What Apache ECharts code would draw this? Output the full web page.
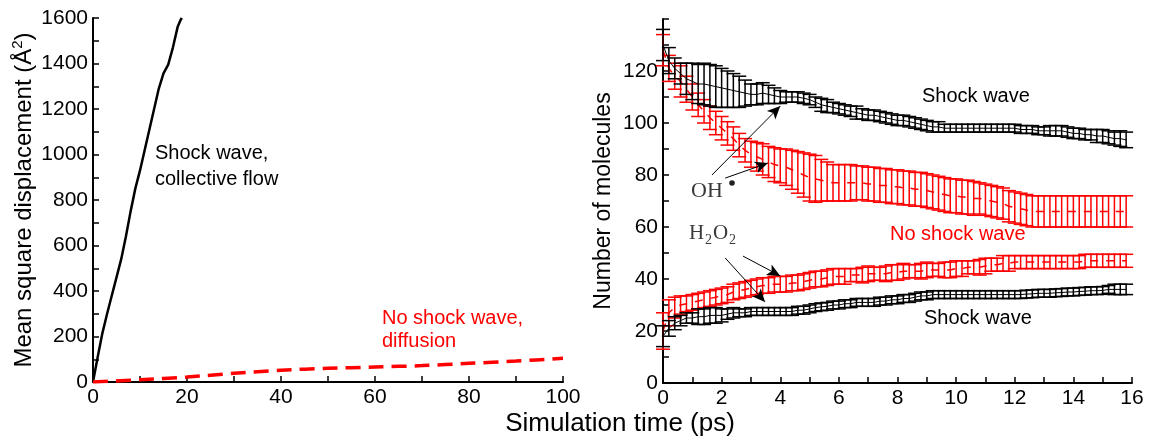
<!DOCTYPE html>
<html><head><meta charset="utf-8">
<script src="https://cdn.jsdelivr.net/npm/echarts/dist/echarts.min.js"></script>
<style>html,body{margin:0;padding:0;background:#fff}#c{width:1150px;height:445px}</style>
</head><body><div id="c"></div>
<script>
// ---- Left panel: mean square displacement ----
const msdShockTime = [0,1,2,3,4,5,6,7,8,9,10,11,12,13,14,15,16,17,18,18.6,18.9];
const msdShock     = [0,110,215,300,380,460,540,640,750,850,930,1020,1110,1200,1290,1357,1395,1470,1560,1590,1600];
const msdNoShockTime = [0,10,20,30,40,50,60,70,80,90,100];
const msdNoShock     = [0,10,22,38,52,60,66,72,82,92,104];
const leftXTicks = [0,20,40,60,80,100];
const leftYTicks = [0,200,400,600,800,1000,1200,1400,1600];

// ---- Right panel: number of molecules ----
const time = [
 0,0.2,0.4,0.6,0.8,1,1.2,1.4,1.6,1.8,
 2,2.2,2.4,2.6,2.8,3,3.2,3.4,3.6,3.8,
 4,4.2,4.4,4.6,4.8,5,5.2,5.4,5.6,5.8,
 6,6.2,6.4,6.6,6.8,7,7.2,7.4,7.6,7.8,
 8,8.2,8.4,8.6,8.8,9,9.2,9.4,9.6,9.8,
 10,10.2,10.4,10.6,10.8,11,11.2,11.4,11.6,11.8,
 12,12.2,12.4,12.6,12.8,13,13.2,13.4,13.6,13.8,
 14,14.2,14.4,14.6,14.8,15,15.2,15.4,15.6,15.8];
const ohShockMean = [
 130,124,121,119,117,116,115,115,114.5,114,
 113.5,113,112.5,112,111.5,111,111,111.5,111,110.5,
 110,110,110,110,109.5,109,108,107,106.5,106,
 105.5,105,104.5,104,103.5,103,103,102.5,102,101.5,
 101,101,100.5,100,99.5,99,98.5,98.5,98,98,
 98,98,98,98,98,98,98,98,98,98,
 98,97.5,97.5,97.5,97,97,97,97,97,96.5,
 96,96,95.5,95.5,95,95,94.5,94,94,93.5];
const ohShockErr = [
 6,5,4,4,6,7,7.5,8,8,8,
 7.5,7,6.5,6,5,4,4,4,3.5,3,
 2.5,2,2,2,2,2,2,2.5,2.5,2,
 2,2,2,2.5,2,2,2,2,2,2,
 2,2,2,2,2,2,2,2,1.5,1.5,
 1.5,1.5,1.5,1.5,1.5,1.5,1.5,1.5,1.5,1.5,
 1.5,1.5,1.5,1.5,1.5,1.5,2,2,2,2,
 2,2,2,2,2.5,2.5,2.5,2.5,3,3];
const ohNoShockMean = [
 128,121,118,116,113,110,107,104.5,102,100,
 98,96,94,91.5,89.5,88,87,86,85,84,
 83.5,83,82,81,80,79,78.5,78,77.5,77,
 77,77,77,77,77,76.5,76.5,76,76,75.5,
 75.5,75,75,74.5,74.5,74,73.5,73,72.5,72,
 72,71.5,71.5,71,71,70.5,70,69.5,69,68,
 67.5,67,66.5,66,66,66,66,66,66,66,
 66,66,66,66,66,66,66,66,66,66];
const ohNoShockErr = [
 6,5,5,6,5,5,4.5,4.5,4.5,4.5,
 4.5,4.5,4.5,4.5,4.5,5,5.5,6,6,6.5,
 6.5,7,7.5,8,8.5,9,9,8,7.5,7,
 7,7,7,6.5,6.5,6.5,6.5,6.5,6.5,6.5,
 6.5,6.5,6.5,6.5,6.5,6.5,6.5,6.5,6.5,6.5,
 6.5,6.5,6.5,6.5,6,6,6,6,6,6,
 6,6,6,6,6,6,6,6,6,6,
 6,6,6,6,6,6,6,6,6,6];
const h2NoShockMean = [
 20,27,29,30,30.5,31,31.5,32,32.5,33,
 33.5,34,35,35.5,36,36.5,37,37.5,37.5,38,
 38,38,38.5,38.5,39,39.5,40,40,40.5,41,
 41,41,41.5,41.5,41.5,42,42,42,42,42.5,
 42.5,43,43,43,43,43.5,43.5,43.5,43.5,43.5,
 44,44,44.5,44.5,44.5,45,45.5,45.5,46,46,
 46.5,46.5,46.5,46.5,46.5,46.5,46.5,46.5,46.5,46.5,
 46.5,46.5,47,47,47,47,47,47,47,47];
const h2NoShockErr = [
 7,5,4,3.5,3,3,3,3,3,3,
 3,3,3,3,3,3,3,3,3,3,
 3,3,3,3,3,3,3,3,3,3,
 3,3,2.5,2.5,3,3,2.5,2.5,3,3,
 3,3,2.5,2.5,3,3,2.5,2.5,3,3,
 3,3,2.5,2.5,3,3,2.5,2.5,3,3,
 2.5,2.5,2.5,2.5,2.5,2.5,2.5,2.5,2.5,2.5,
 2.5,2.5,2.5,2.5,2.5,2.5,2.5,2.5,2.5,2.5];
const h2ShockMean = [
 18,21,23,24,25,25,25.5,25.5,26,26,
 26,26.5,27,27,27,27.5,27.5,27.5,27.5,27.5,
 27.5,27.5,27.5,28,28,28.5,29,29.3,29.5,30,
 30,30.5,30.5,31,31,31,31,31.5,31.5,32,
 32,32.5,32.5,33,33.5,33.5,34,34,34,34,
 34,34,34,34,34,34,34,34,34,34,
 34,34,34.2,34.3,34.5,34.5,34.5,34.7,34.8,35,
 35,35.2,35.3,35.5,35.5,35.6,36,36,36,36];
const h2ShockErr = [
 4,3,2.5,2,2,2,3,3,3,3,
 2.5,2,2,1.5,1.5,1.5,1.5,1.5,1.5,1.5,
 1.5,1.5,1.5,1.5,1.5,1.5,1.5,1.5,1.5,1.5,
 1.5,1.5,1.5,1.5,1.5,1.5,1.5,1.5,1.5,1.5,
 1.5,1.5,1.5,1.5,1.5,1.5,1.5,1.5,1.5,1.5,
 1.5,1.5,1.5,1.5,1.5,1.5,1.5,1.5,1.5,1.5,
 1.5,1.5,1.5,1.5,1.5,1.5,1.5,1.5,1.5,1.5,
 1.5,1.5,1.5,1.5,1.5,1.5,1.5,2,2,2];
const rightXTicks = [0,2,4,6,8,10,12,14,16];
const rightYTicks = [0,20,40,60,80,100,120];

// arrows (data coordinates of right panel)
const ohArrows = [[[1.67,80],[4.0,106.5]],[[2.12,78.8],[3.58,84.6]]];
const h2o2Arrows = [[[2.73,48.8],[4.0,41.2]],[[2.12,48.1],[3.48,31.2]]];

const FONT = 'Liberation Sans, Arial, Helvetica, sans-serif';
const SERIF = 'Liberation Serif, DejaVu Serif, serif';
const RED = '#ff0000';

const pairs = (xs, ys) => xs.map((x, i) => [x, ys[i]]);
const bars = (m, e) => time.map((t, i) => [t, m[i] - e[i], m[i] + e[i]]);
const onlyTicks = (list) => (v) => list.indexOf(v) >= 0 ? String(v) : '';

function errRender(color) {
  return function (params, api) {
    const t = api.value(0), lo = api.value(1), hi = api.value(2);
    const a = api.coord([t, lo]), b = api.coord([t, hi]);
    const w = 7;
    const st = { stroke: color, lineWidth: 1.5 };
    return { type: 'group', children: [
      { type: 'line', shape: { x1: a[0], y1: a[1], x2: b[0], y2: b[1] }, style: st },
      { type: 'line', shape: { x1: a[0] - w, y1: a[1], x2: a[0] + w, y2: a[1] }, style: st },
      { type: 'line', shape: { x1: b[0] - w, y1: b[1], x2: b[0] + w, y2: b[1] }, style: st }
    ]};
  };
}

// minor ticks are drawn as regular ticks at half the label step; labels only at the major values
function axisCommon(extra, labels) {
  return Object.assign({
    type: 'value',
    axisLine: { show: true, onZero: false, lineStyle: { color: '#000', width: 2 } },
    axisTick: { show: true, inside: true, length: 6, lineStyle: { color: '#000', width: 1.5 } },
    splitLine: { show: false },
    axisLabel: { color: '#000', fontSize: 21, fontFamily: FONT, margin: 5, formatter: onlyTicks(labels), showMinLabel: true, showMaxLabel: true, hideOverlap: false }
  }, extra);
}

const chart = echarts.init(document.getElementById('c'), null, { renderer: 'canvas' });
const arrowLine = (segs) => segs.map(s => [{ coord: s[0] }, { coord: s[1] }]);

chart.setOption({
  animation: false,
  backgroundColor: '#fff',
  grid: [
    { left: 93, right: 587, top: 18, bottom: 63 },
    { left: 663, right: 18, top: 19, bottom: 62 }
  ],
  xAxis: [
    axisCommon({ gridIndex: 0, min: 0, max: 100, interval: 10 }, leftXTicks),
    axisCommon({ gridIndex: 1, min: 0, max: 16, interval: 1 }, rightXTicks)
  ],
  yAxis: [
    axisCommon({ gridIndex: 0, min: 0, max: 1600, interval: 100,
      name: 'Mean square displacement (Å{sup|2})', nameLocation: 'middle', nameGap: 56,
      nameTextStyle: { color: '#000', fontSize: 24, fontFamily: FONT,
        rich: { sup: { fontSize: 15, fontFamily: FONT, color: '#000', lineHeight: 15, padding: [0, 0, 12, 0] } } } }, leftYTicks),
    axisCommon({ gridIndex: 1, min: 0, max: 140, interval: 10,
      name: 'Number of molecules', nameLocation: 'middle', nameGap: 48,
      nameTextStyle: { color: '#000', fontSize: 23, fontFamily: FONT } }, rightYTicks)
  ],
  series: [
    { type: 'line', xAxisIndex: 0, yAxisIndex: 0, data: pairs(msdShockTime, msdShock), showSymbol: false, symbol: 'none',
      lineStyle: { color: '#000', width: 2.5 } },
    { type: 'line', xAxisIndex: 0, yAxisIndex: 0, data: pairs(msdNoShockTime, msdNoShock), showSymbol: false, symbol: 'none', smooth: 0.3,
      lineStyle: { color: RED, width: 3.5, type: [15, 8] } },

    { type: 'custom', xAxisIndex: 1, yAxisIndex: 1, renderItem: errRender(RED), data: bars(ohNoShockMean, ohNoShockErr), encode: { x: 0, y: [1, 2] }, z: 2 },
    { type: 'line', xAxisIndex: 1, yAxisIndex: 1, data: pairs(time, ohNoShockMean), symbol: 'none', lineStyle: { color: RED, width: 1.5, type: [8, 8] }, z: 3 },
    { type: 'custom', xAxisIndex: 1, yAxisIndex: 1, renderItem: errRender(RED), data: bars(h2NoShockMean, h2NoShockErr), encode: { x: 0, y: [1, 2] }, z: 2 },
    { type: 'line', xAxisIndex: 1, yAxisIndex: 1, data: pairs(time, h2NoShockMean), symbol: 'none', lineStyle: { color: RED, width: 1.5, type: [8, 8] }, z: 3 },
    { type: 'custom', xAxisIndex: 1, yAxisIndex: 1, renderItem: errRender('#000'), data: bars(ohShockMean, ohShockErr), encode: { x: 0, y: [1, 2] }, z: 4 },
    { type: 'line', xAxisIndex: 1, yAxisIndex: 1, data: pairs(time, ohShockMean), symbol: 'none', lineStyle: { color: '#000', width: 1 }, z: 5 },
    { type: 'custom', xAxisIndex: 1, yAxisIndex: 1, renderItem: errRender('#000'), data: bars(h2ShockMean, h2ShockErr), encode: { x: 0, y: [1, 2] }, z: 4 },
    { type: 'line', xAxisIndex: 1, yAxisIndex: 1, data: pairs(time, h2ShockMean), symbol: 'none', lineStyle: { color: '#000', width: 1 }, z: 5,
      markLine: { silent: true, symbol: ['none', 'arrow'], symbolSize: [9, 13], label: { show: false },
        lineStyle: { color: '#000', width: 1, type: 'solid' },
        data: arrowLine(ohArrows).concat(arrowLine(h2o2Arrows)) } }
  ],
  graphic: [
    { type: 'text', x: 620, y: 424, style: { text: 'Simulation time (ps)', fill: '#000', font: '26px ' + FONT, textAlign: 'center', textVerticalAlign: 'middle' }, z: 10 },
    { type: 'text', x: 155, y: 153, style: { text: 'Shock wave,', fill: '#000', font: '20px ' + FONT, textVerticalAlign: 'middle' } },
    { type: 'text', x: 155, y: 179, style: { text: 'collective flow', fill: '#000', font: '20px ' + FONT, textVerticalAlign: 'middle' } },
    { type: 'text', x: 382, y: 318, style: { text: 'No shock wave,', fill: RED, font: '20px ' + FONT, textVerticalAlign: 'middle' } },
    { type: 'text', x: 382, y: 341, style: { text: 'diffusion', fill: RED, font: '20px ' + FONT, textVerticalAlign: 'middle' } },
    { type: 'text', x: 922, y: 96, style: { text: 'Shock wave', fill: '#000', font: '20px ' + FONT, textVerticalAlign: 'middle' } },
    { type: 'text', x: 890, y: 234, style: { text: 'No shock wave', fill: RED, font: '20px ' + FONT, textVerticalAlign: 'middle' } },
    { type: 'text', x: 924, y: 318, style: { text: 'Shock wave', fill: '#000', font: '20px ' + FONT, textVerticalAlign: 'middle' } },
    { type: 'text', x: 691, y: 191, style: { text: 'OH', fill: '#3a3a3a', font: '22px ' + SERIF, textVerticalAlign: 'middle' } },
    { type: 'circle', shape: { cx: 732, cy: 183, r: 2.8 }, style: { fill: '#222' } },
    { type: 'text', x: 689, y: 233, style: { text: 'H', fill: '#3a3a3a', font: '21px ' + SERIF, textVerticalAlign: 'middle' } },
    { type: 'text', x: 705, y: 240, style: { text: '2', fill: '#3a3a3a', font: '14px ' + SERIF, textVerticalAlign: 'middle' } },
    { type: 'text', x: 713, y: 233, style: { text: 'O', fill: '#3a3a3a', font: '21px ' + SERIF, textVerticalAlign: 'middle' } },
    { type: 'text', x: 729, y: 240, style: { text: '2', fill: '#3a3a3a', font: '14px ' + SERIF, textVerticalAlign: 'middle' } }
  ]
});
</script></body></html>
